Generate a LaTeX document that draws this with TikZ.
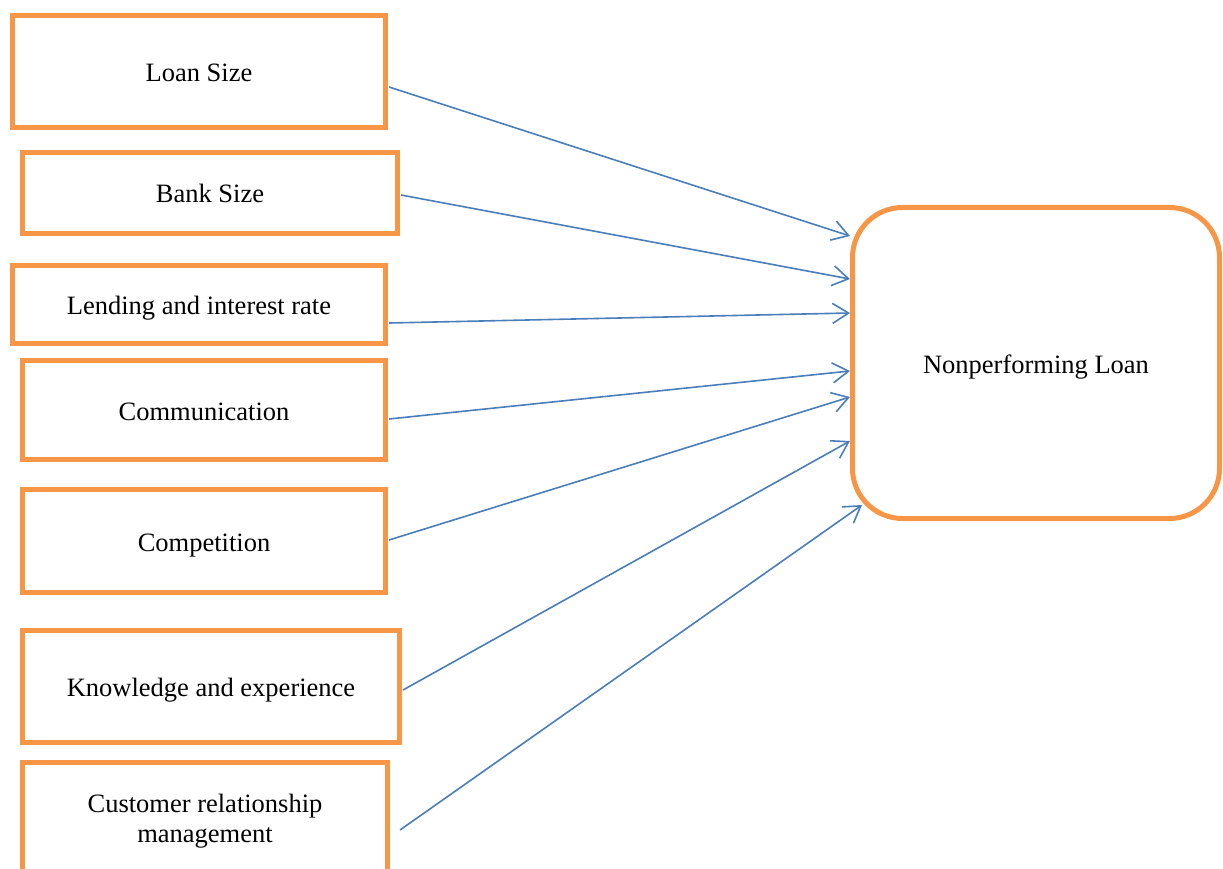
\documentclass[tikz,border=0pt]{standalone}
\usepackage{fontspec}
\setmainfont{Liberation Serif}
\usetikzlibrary{arrows.meta,calc}
\definecolor{boxorange}{HTML}{F79646}
\definecolor{arrblue}{HTML}{4A7EBB}
\begin{document}
\begin{tikzpicture}[x=1pt,y=-1pt,
  factor/.style={draw=boxorange,line width=5pt,rectangle,inner sep=0pt,align=center,
    font=\fontsize{26.5}{30}\selectfont,text height=26pt,text depth=6pt},
  factortwo/.style={draw=boxorange,line width=5pt,rectangle,inner sep=0pt,align=center,
    font=\fontsize{26.5}{30}\selectfont},
  target/.style={draw=boxorange,line width=5pt,rectangle,rounded corners=50pt,inner sep=0pt,
    font=\fontsize{26.5}{30}\selectfont,text height=26pt,text depth=6pt},
  arr/.style={draw=arrblue,line width=1.6pt,-{Straight Barb[length=16pt,width=20pt,line width=1.6pt]}}]
\useasboundingbox (0,0) rectangle (1223,869);
\begin{scope}
\clip (0,0) rectangle (1223,869);
\node[factor,minimum width=373pt,minimum height=112pt] (ls) at (199,71.5) {Loan Size};
\node[factor,minimum width=375pt,minimum height=81pt] (bs) at (210,193) {Bank Size};
\node[factor,minimum width=373pt,minimum height=78pt] (li) at (199,304.5) {Lending and interest rate};
\node[factor,minimum width=363pt,minimum height=99pt] (co) at (204,410) {Communication};
\node[factor,minimum width=363pt,minimum height=103pt] (cp) at (204,541) {Competition};
\node[factor,minimum width=377pt,minimum height=112pt] (ke) at (211,686.5) {Knowledge and experience};
\node[factortwo,minimum width=365pt,minimum height=117pt] (cr) at (205,821) {Customer relationship\\management};
\node[target,minimum width=367pt,minimum height=311pt] (np) at (1036,363) {Nonperforming Loan};

\draw[arr] ($(ls.east |- 0,87)+(1,0)$) -- (np.west |- 0,236);
\draw[arr] ($(bs.east |- 0,195)+(1,0)$) -- (np.west |- 0,279);
\draw[arr] ($(li.east |- 0,323)+(1,0)$) -- (np.west |- 0,313);
\draw[arr] ($(co.east |- 0,419)+(1,0)$) -- (np.west |- 0,371);
\draw[arr] ($(cp.east |- 0,540)+(1,0)$) -- (np.west |- 0,397);
\draw[arr] ($(ke.east |- 0,690)+(1,0)$) -- (np.west |- 0,441);
\draw[arr] ($(cr.east |- 0,830)+(10,0)$) -- ($(np.south west)+(12,-16)$);
\end{scope}
\end{tikzpicture}
\end{document}
